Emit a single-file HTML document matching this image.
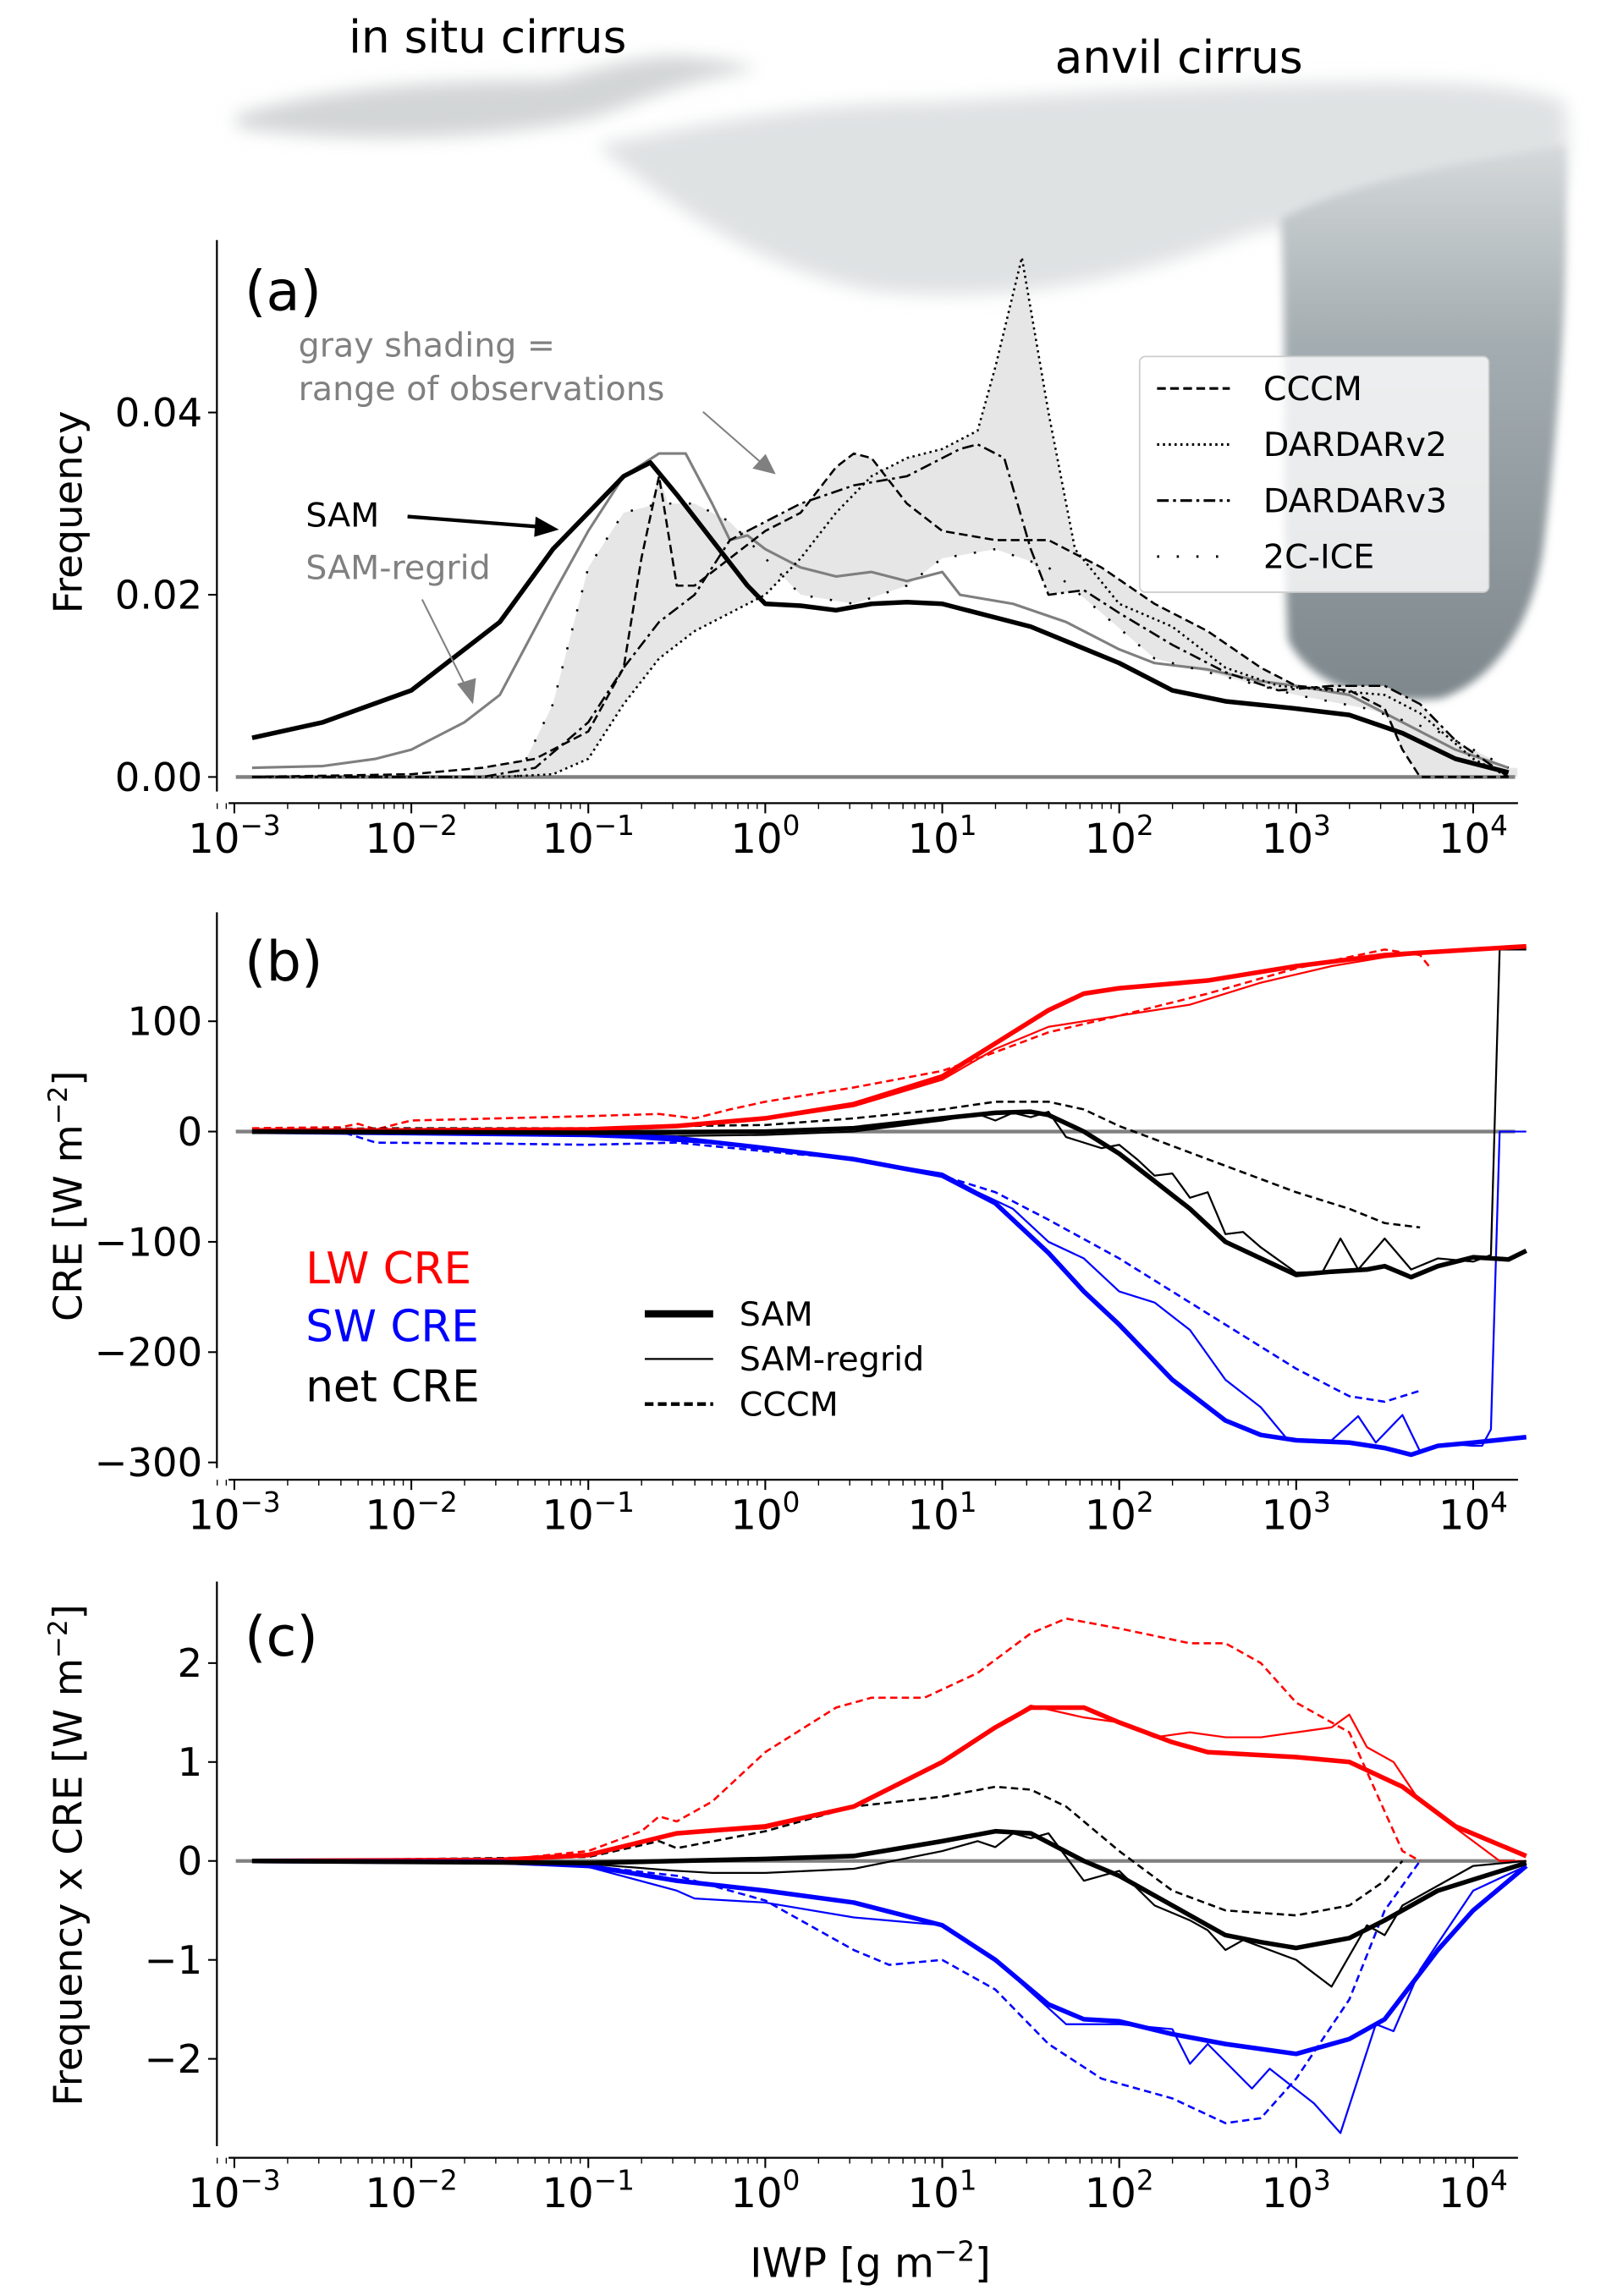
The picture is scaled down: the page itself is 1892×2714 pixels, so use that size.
<!DOCTYPE html>
<html><head><meta charset="utf-8"><style>
html,body{margin:0;padding:0;background:#fff}
svg{display:block;font-family:"DejaVu Sans","Liberation Sans",sans-serif}
</style></head><body>
<svg id="fig" width="1892" height="2714" viewBox="0 0 1100 1578" xmlns="http://www.w3.org/2000/svg">
<defs>
<filter id="blur" x="-20%" y="-20%" width="140%" height="140%"><feGaussianBlur stdDeviation="6"/></filter>
<filter id="blur2" x="-20%" y="-20%" width="140%" height="140%"><feGaussianBlur stdDeviation="3"/></filter>
<linearGradient id="tower" x1="0" y1="0" x2="0" y2="1"><stop offset="0" stop-color="#d5d9da"/><stop offset="0.35" stop-color="#a4adb1"/><stop offset="1" stop-color="#7d878c"/></linearGradient>
</defs>
<g>
<path d="M160,80 C220,60 300,55 380,55 C420,45 450,35 480,40 C505,42 515,45 520,48 C470,55 440,70 410,80 C350,95 250,100 165,88 Z" fill="#d3d6d7" filter="url(#blur)"/>
<path d="M410,100 C480,85 560,70 640,70 C720,65 800,60 880,58 C960,55 1040,55 1075,70 C1080,110 1075,140 1060,150 C980,150 900,150 860,160 C780,190 700,210 600,200 C520,185 460,140 410,100 Z" fill="#dfe2e3" filter="url(#blur)"/>
<path d="M880,150 C940,120 1020,110 1075,100 C1080,180 1070,300 1060,380 C1050,440 1020,470 990,480 C940,485 900,470 885,440 C880,350 885,250 880,150 Z" fill="url(#tower)" filter="url(#blur2)"/>
<text x="335" y="36" font-size="31" text-anchor="middle" fill="#000">in situ cirrus</text>
<text x="810" y="50" font-size="31" text-anchor="middle" fill="#000">anvil cirrus</text>
</g>
<g id="pa"></g>
<g id="pb"></g>
<g id="pc"></g>
</svg>
<script>
// ---------- data (x values are log10 of IWP) ----------
const aSamX=[-2.9,-2.5,-2,-1.5,-1.2,-1,-0.8,-0.65,-0.5,-0.3,-0.1,0,0.2,0.4,0.6,0.8,1,1.2,1.5,2,2.3,2.6,3,3.3,3.6,3.9,4.2];
const aSamY=[0.0043,0.006,0.0095,0.017,0.025,0.029,0.033,0.0345,0.031,0.026,0.021,0.019,0.0188,0.0183,0.019,0.0192,0.019,0.018,0.0165,0.0125,0.0095,0.0083,0.0075,0.0068,0.0048,0.002,0.0005];
const aRegX=[-2.9,-2.5,-2.2,-2,-1.7,-1.5,-1.2,-1,-0.8,-0.6,-0.45,-0.3,-0.2,-0.1,0,0.2,0.4,0.6,0.8,1,1.1,1.4,1.7,2,2.2,2.5,2.8,3,3.3,3.6,3.9,4.2];
const aRegY=[0.001,0.0012,0.002,0.003,0.006,0.009,0.02,0.027,0.033,0.0355,0.0355,0.03,0.026,0.0265,0.025,0.023,0.022,0.0225,0.0215,0.0225,0.02,0.019,0.017,0.014,0.0125,0.0118,0.0105,0.01,0.009,0.006,0.003,0.001];
const aCccmX=[-2.9,-2,-1.6,-1.3,-1,-0.8,-0.7,-0.6,-0.5,-0.4,-0.2,0,0.2,0.4,0.5,0.6,0.8,1,1.3,1.6,1.9,2.2,2.5,2.8,3,3.3,3.5,3.6,3.7,4.2];
const aCccmY=[0,0.0003,0.001,0.002,0.005,0.012,0.024,0.033,0.021,0.021,0.024,0.027,0.029,0.034,0.0355,0.035,0.03,0.027,0.026,0.026,0.023,0.019,0.016,0.012,0.01,0.0095,0.0075,0.003,0,0];
const aD2X=[-2.9,-1.5,-1.2,-1,-0.8,-0.6,-0.4,-0.2,0,0.2,0.4,0.6,0.8,1,1.2,1.3,1.45,1.6,1.75,2,2.3,2.6,2.9,3.2,3.5,3.7,4,4.2];
const aD2Y=[0,0,0.0003,0.002,0.008,0.013,0.016,0.018,0.02,0.024,0.029,0.033,0.035,0.036,0.038,0.045,0.057,0.04,0.025,0.019,0.0165,0.012,0.01,0.0095,0.009,0.007,0.002,0];
const aD3X=[-2.9,-1.6,-1.3,-1,-0.8,-0.6,-0.4,-0.2,0,0.2,0.5,0.8,1.1,1.2,1.35,1.5,1.6,1.8,2,2.3,2.6,2.9,3.2,3.5,3.7,3.9,4.2];
const aD3Y=[0,0,0.001,0.006,0.012,0.017,0.02,0.026,0.028,0.03,0.032,0.033,0.036,0.0365,0.035,0.025,0.02,0.0205,0.018,0.0145,0.0115,0.0095,0.01,0.01,0.008,0.004,0];
const a2cX=[-1.4,-1.2,-1,-0.8,-0.6,-0.4,-0.2,0,0.2,0.5,0.8,1,1.3,1.6,1.9,2.2,2.6,3,3.4,3.8,4.2];
const a2cY=[0,0.008,0.023,0.029,0.03,0.03,0.028,0.024,0.02,0.019,0.021,0.024,0.025,0.023,0.018,0.013,0.011,0.009,0.0075,0.005,0.001];
const aYTicks=[0,0.02,0.04];
const aYLabels=["0.00","0.02","0.04"];
const bLwSamX=[-2.9,-2,-1,-0.5,0,0.5,1,1.3,1.6,1.8,2,2.5,3,3.5,4,4.3];
const bLwSamY=[1,1,2,5,12,25,50,80,110,125,130,137,150,160,165,168];
const bLwRegX=[-2.9,-2,-1,-0.5,0,0.5,1,1.3,1.6,2,2.4,2.8,3.2,3.5,4,4.3];
const bLwRegY=[1,1,2,5,11,23,47,75,95,105,115,135,150,158,166,167];
const bLwCcX=[-2.9,-2.4,-2.3,-2.2,-2,-1.5,-1,-0.6,-0.4,-0.2,0,0.5,1,1.3,1.6,2,2.5,3,3.5,3.7,3.75];
const bLwCcY=[3,4,7,2,10,12,14,16,12,20,27,40,55,72,90,105,125,148,165,160,150];
const bSwSamX=[-2.9,-1,-0.5,0,0.5,1,1.3,1.6,1.8,2,2.3,2.6,2.8,3,3.3,3.5,3.65,3.8,4,4.3];
const bSwSamY=[0,-3,-6,-15,-25,-40,-65,-110,-145,-175,-225,-262,-275,-280,-282,-287,-293,-285,-282,-277];
const bSwRegX=[-2.9,-1,0,0.5,1,1.2,1.4,1.6,1.8,2,2.2,2.4,2.6,2.8,2.95,3.2,3.35,3.45,3.6,3.7,3.85,4,4.05,4.1,4.15,4.3];
const bSwRegY=[0,-3,-14,-25,-38,-55,-70,-100,-115,-145,-155,-180,-225,-250,-279,-280,-258,-282,-257,-290,-283,-285,-285,-270,0,0];
const bSwCcX=[-2.9,-2.4,-2.2,-1.5,-1,-0.5,0,0.5,1,1.3,1.6,2,2.5,3,3.3,3.5,3.6,3.7];
const bSwCcY=[0,0,-10,-11,-12,-10,-18,-25,-40,-55,-80,-115,-165,-215,-240,-245,-240,-235];
const bNetSamX=[-2.9,-1,0,0.5,1,1.3,1.5,1.6,1.8,2,2.2,2.4,2.6,2.8,3,3.2,3.4,3.5,3.65,3.8,4,4.2,4.3];
const bNetSamY=[0,-1,0,3,12,17,18,15,0,-20,-45,-70,-100,-115,-130,-127,-125,-122,-132,-122,-114,-116,-108];
const bNetRegX=[-2.9,-1,-0.5,0,0.5,1,1.2,1.3,1.4,1.5,1.6,1.7,1.9,2,2.1,2.2,2.3,2.4,2.5,2.6,2.7,2.8,3,3.15,3.25,3.35,3.5,3.65,3.8,4,4.1,4.15,4.3];
const bNetRegY=[0,-2,-4,-3,0,10,16,10,17,13,18,-5,-15,-12,-25,-40,-38,-60,-55,-93,-91,-105,-128,-127,-97,-125,-97,-125,-115,-118,-112,165,165];
const bNetCcX=[-2.9,-2,-1,-0.5,0,0.5,1,1.3,1.6,1.8,2,2.5,3,3.3,3.5,3.7];
const bNetCcY=[2,3,3,5,6,12,20,27,27,20,5,-25,-55,-70,-83,-87];
const bYTicks=[100,0,-100,-200,-300];
const bYLabels=["100","0","\u2212100","\u2212200","\u2212300"];
const cLwSamX=[-2.9,-1.5,-1,-0.5,0,0.5,1,1.3,1.5,1.8,2,2.3,2.5,3,3.3,3.6,3.9,4.3];
const cLwSamY=[0,0.01,0.06,0.28,0.35,0.55,1.0,1.35,1.55,1.55,1.4,1.2,1.1,1.05,1.0,0.75,0.35,0.05];
const cLwRegX=[-2.9,-1.5,-1,-0.5,0,0.5,1,1.3,1.5,1.8,2,2.2,2.4,2.6,2.8,3,3.2,3.3,3.4,3.55,3.7,4,4.15,4.3];
const cLwRegY=[0,0.01,0.06,0.27,0.33,0.55,1.0,1.35,1.57,1.45,1.4,1.25,1.3,1.25,1.25,1.3,1.35,1.48,1.15,1.0,0.6,0.2,0,0];
const cLwCcX=[-2.9,-1.5,-1,-0.7,-0.6,-0.5,-0.3,0,0.4,0.6,0.9,1.2,1.5,1.7,2,2.4,2.6,2.8,3,3.3,3.5,3.6,3.7];
const cLwCcY=[0,0.01,0.1,0.3,0.45,0.4,0.6,1.1,1.55,1.65,1.65,1.9,2.3,2.45,2.35,2.2,2.2,2,1.6,1.3,0.5,0.1,0];
const cSwSamX=[-2.9,-1.5,-1,-0.5,0,0.5,1,1.3,1.6,1.8,2,2.3,2.6,3,3.3,3.5,3.8,4,4.3];
const cSwSamY=[0,-0.01,-0.05,-0.2,-0.3,-0.42,-0.65,-1.0,-1.45,-1.6,-1.62,-1.75,-1.85,-1.95,-1.8,-1.6,-0.9,-0.5,-0.05];
const cSwRegX=[-2.9,-1.5,-1,-0.5,-0.4,0,0.5,1,1.3,1.7,2,2.3,2.4,2.5,2.75,2.85,3.1,3.25,3.45,3.55,3.7,4,4.3];
const cSwRegY=[0,-0.01,-0.06,-0.3,-0.38,-0.42,-0.57,-0.65,-1.0,-1.65,-1.65,-1.7,-2.05,-1.85,-2.3,-2.1,-2.45,-2.75,-1.65,-1.72,-1.1,-0.3,-0.05];
const cSwCcX=[-2.9,-1.5,-1,-0.5,0,0.5,0.7,1,1.3,1.6,1.9,2.3,2.6,2.8,3,3.3,3.5,3.7];
const cSwCcY=[0,-0.01,-0.05,-0.15,-0.4,-0.9,-1.05,-1.0,-1.3,-1.85,-2.2,-2.4,-2.65,-2.6,-2.2,-1.4,-0.5,0];
const cNetSamX=[-2.9,-1,0,0.5,1,1.3,1.5,1.8,2,2.3,2.6,2.8,3,3.3,3.5,3.8,4.3];
const cNetSamY=[0,-0.02,0.02,0.05,0.2,0.3,0.28,0,-0.15,-0.45,-0.75,-0.82,-0.88,-0.78,-0.6,-0.3,-0.02];
const cNetRegX=[-2.9,-1,-0.5,-0.3,0,0.5,1,1.2,1.3,1.4,1.5,1.6,1.8,2,2.2,2.4,2.5,2.6,2.7,3,3.2,3.4,3.5,3.6,4,4.3];
const cNetRegY=[0,-0.03,-0.1,-0.12,-0.12,-0.08,0.1,0.2,0.14,0.28,0.23,0.28,-0.2,-0.1,-0.45,-0.6,-0.7,-0.9,-0.8,-1.0,-1.27,-0.65,-0.75,-0.45,-0.05,0];
const cNetCcX=[-2.9,-1,-0.6,-0.5,0,0.5,1,1.3,1.5,1.7,2,2.3,2.6,3,3.3,3.5,3.6];
const cNetCcY=[0,0.04,0.2,0.13,0.3,0.55,0.65,0.75,0.72,0.55,0.1,-0.3,-0.5,-0.55,-0.45,-0.2,0];
const cYTicks=[2,1,0,-1,-2];
const cYLabels=["2","1","0","\u22121","\u22122"];
const xDecades=[-3,-2,-1,0,1,2,3,4];

// ---------- helpers ----------
const NS="http://www.w3.org/2000/svg";
function mk(parent,tag,attrs){const e=document.createElementNS(NS,tag);for(const k in attrs)e.setAttribute(k,attrs[k]);parent.appendChild(e);return e;}
const X=lx=>161+(lx+3)*121.6;
function yScale(v0,py0,v1,py1){return v=>py0+(v-v0)*(py1-py0)/(v1-v0);}
function pathD(xs,ys,Y){return xs.map((v,i)=>(i?'L':'M')+X(v).toFixed(1)+','+Y(ys[i]).toFixed(1)).join(' ');}
function line(g,xs,ys,Y,color,w,dash,name){
  const p=mk(g,'path',{d:pathD(xs,ys,Y),fill:'none',stroke:color,'stroke-width':w,'stroke-linejoin':'round','stroke-dasharray':dash||'none'});
  
  
  return p;
}
function interp(xs,ys,v){if(v<=xs[0])return ys[0];if(v>=xs[xs.length-1])return ys[ys.length-1];for(let i=1;i<xs.length;i++){if(v<=xs[i]){const t=(v-xs[i-1])/(xs[i]-xs[i-1]);return ys[i-1]+t*(ys[i]-ys[i-1]);}}}
function axes(g,Y,top,bottom,yTicks,yLabels,ylabelY,ylabelSize){
  const ys=mk(g,'line',{x1:149,y1:top,x2:149,y2:bottom-8,stroke:'#000','stroke-width':1.3});
  
  
  const xs=mk(g,'line',{x1:157,y1:bottom,x2:1043,y2:bottom,stroke:'#000','stroke-width':1.3});
  
  
  yTicks.forEach((v,i)=>{
    mk(g,'line',{x1:143,y1:Y(v),x2:149,y2:Y(v),stroke:'#000','stroke-width':1.2});
    const t=mk(g,'text',{x:139,y:Y(v)+9.5,'font-size':27,'text-anchor':'end'});t.textContent=yLabels[i];
    
    
  });
  xDecades.forEach(d=>{
    mk(g,'line',{x1:X(d),y1:bottom,x2:X(d),y2:bottom+7,stroke:'#000','stroke-width':1.2});
    for(let m=2;m<=9;m++){const lx=d+Math.log10(m);if(X(lx)<=1043)mk(g,'line',{x1:X(lx),y1:bottom,x2:X(lx),y2:bottom+4,stroke:'#000','stroke-width':0.8});}
    const t=mk(g,'text',{x:X(d),y:bottom+34,'font-size':28,'text-anchor':'middle'});
    
    
    t.appendChild(document.createTextNode('10'));
    const s=mk(t,'tspan',{dy:-12,'font-size':19});s.textContent=(d<0?'\u2212':'')+Math.abs(d);
  });
  for(let m=8;m<=9;m++)mk(g,'line',{x1:X(-4+Math.log10(m)),y1:bottom,x2:X(-4+Math.log10(m)),y2:bottom+4,stroke:'#000','stroke-width':0.8});
  const yl=mk(g,'text',{x:0,y:0,'font-size':ylabelSize,'text-anchor':'middle',transform:`translate(56,${ylabelY}) rotate(-90)`});
  
  
  return yl;
}
function zero(g,Y){const z=mk(g,'line',{x1:162,y1:Y(0),x2:1041,y2:Y(0),stroke:'#808080','stroke-width':2.5});
  
  }
function label(g,txt,x,y,size,color,name){const t=mk(g,'text',{x:x,y:y,'font-size':size,fill:color||'#000'});t.textContent=txt;
  
  return t;}

// ---------- panel a ----------
(function(){
  const g=document.getElementById('pa');
  const Y=yScale(0,534,0.04,283.5);
  const sx=[];for(let v=-1.65;v<=4.25;v+=0.05)sx.push(+v.toFixed(2));
  const series=[[aCccmX,aCccmY],[aD2X,aD2Y],[aD3X,aD3Y],[a2cX,a2cY]];
  const up=sx.map(v=>Math.max(...series.map(s=>interp(s[0],s[1],v))));
  const lo=sx.map(v=>Math.min(...series.map(s=>interp(s[0],s[1],v))));
  let d=sx.map((v,i)=>(i?'L':'M')+X(v)+','+Y(up[i])).join(' ');
  for(let i=sx.length-1;i>=0;i--)d+=' L'+X(sx[i])+','+Y(lo[i]);
  const sh=mk(g,'path',{d:d+'Z',fill:'#e6e6e6',stroke:'none'});
  
  
  zero(g,Y);
  const yl=axes(g,Y,165,552,aYTicks,aYLabels,352,27);yl.textContent='Frequency';
  line(g,aRegX,aRegY,Y,'#7f7f7f',1.8,null,'sam-regrid-line');
  line(g,aCccmX,aCccmY,Y,'#000',1.5,'6 3','cccm-line');
  line(g,aD2X,aD2Y,Y,'#000',1.5,'1.5 2.5','dardarv2-line');
  line(g,aD3X,aD3Y,Y,'#000',1.5,'8 3 2 3','dardarv3-line');
  line(g,a2cX,a2cY,Y,'#000',1.5,'1.5 12','2c-ice-line');
  line(g,aSamX,aSamY,Y,'#000',3.2,null,'sam-line');
  label(g,'(a)',168,213,38,'#000','panel-a-label');
  label(g,'gray shading =',205,245,23,'#808080','shading-annotation-line1');
  label(g,'range of observations',205,275,23,'#808080','shading-annotation-line2');
  mk(g,'line',{x1:483,y1:283,x2:523,y2:318,stroke:'#808080','stroke-width':1.2});
  mk(g,'path',{d:'M533,326 L517,322 L526,312 Z',fill:'#808080'});
  label(g,'SAM',210,362,23,'#000','sam-annotation');
  mk(g,'line',{x1:280,y1:355,x2:370,y2:362,stroke:'#000','stroke-width':2.5});
  mk(g,'path',{d:'M384,364 L368,355 L367,369 Z',fill:'#000'});
  label(g,'SAM-regrid',210,398,23,'#808080','sam-regrid-annotation');
  mk(g,'line',{x1:290,y1:412,x2:320,y2:472,stroke:'#808080','stroke-width':1.2});
  mk(g,'path',{d:'M325,484 L314,470 L327,466 Z',fill:'#808080'});
  const lg=mk(g,'g',{});
  
  
  mk(lg,'rect',{x:783,y:245,width:240,height:162,rx:4,fill:'#ffffff','fill-opacity':0.8,stroke:'#cccccc','stroke-width':1});
  const names=['CCCM','DARDARv2','DARDARv3','2C-ICE'];
  const dashes=['6 3','1.5 2.5','8 3 2 3','1.5 12'];
  names.forEach((n,i)=>{const y=267+i*38.5;
    const l=mk(lg,'line',{x1:795,y1:y,x2:845,y2:y,stroke:'#000','stroke-width':1.8,'stroke-dasharray':dashes[i]});
    
    
    label(lg,n,868,y+8,23,'#000','legend-entry-label');});
})();

// ---------- panel b ----------
(function(){
  const g=document.getElementById('pb');
  const Y=yScale(0,777.7,100,701.9);
  zero(g,Y);
  const yl=axes(g,Y,627,1017,bYTicks,bYLabels,822,27);
  yl.appendChild(document.createTextNode('CRE [W m'));
  const s=mk(yl,'tspan',{dy:-10,'font-size':18});s.textContent='\u22122';
  const s2=mk(yl,'tspan',{dy:10});s2.textContent=']';
  line(g,bLwCcX,bLwCcY,Y,'#ff0000',1.5,'5 3','lw-cre-cccm-line');
  line(g,bSwCcX,bSwCcY,Y,'#0000ff',1.5,'5 3','sw-cre-cccm-line');
  line(g,bNetCcX,bNetCcY,Y,'#000',1.5,'5 3','net-cre-cccm-line');
  line(g,bLwRegX,bLwRegY,Y,'#ff0000',1.3,null,'lw-cre-sam-regrid-line');
  line(g,bSwRegX,bSwRegY,Y,'#0000ff',1.3,null,'sw-cre-sam-regrid-line');
  line(g,bNetRegX,bNetRegY,Y,'#000',1.3,null,'net-cre-sam-regrid-line');
  line(g,bLwSamX,bLwSamY,Y,'#ff0000',3.2,null,'lw-cre-sam-line');
  line(g,bSwSamX,bSwSamY,Y,'#0000ff',3.2,null,'sw-cre-sam-line');
  line(g,bNetSamX,bNetSamY,Y,'#000',3.2,null,'net-cre-sam-line');
  label(g,'(b)',168,674,38,'#000','panel-b-label');
  label(g,'LW CRE',210,882,30,'#ff0000','lw-cre-label');
  label(g,'SW CRE',210,922,30,'#0000ff','sw-cre-label');
  label(g,'net CRE',210,963,30,'#000','net-cre-label');
  const lg=mk(g,'g',{});
  
  
  [['SAM',5,null],['SAM-regrid',1.3,null],['CCCM',2.5,'6 3']].forEach((e,i)=>{const y=903+i*31;
    const l=mk(lg,'line',{x1:443,y1:y,x2:490,y2:y,stroke:'#000','stroke-width':e[1],'stroke-dasharray':e[2]||'none'});
    
    
    label(lg,e[0],508,y+8,23,'#000','legend-entry-label');});
})();

// ---------- panel c ----------
(function(){
  const g=document.getElementById('pc');
  const Y=yScale(0,1279,1,1211);
  zero(g,Y);
  const yl=axes(g,Y,1087,1483,cYTicks,cYLabels,1275,27);
  yl.appendChild(document.createTextNode('Frequency x CRE [W m'));
  const s=mk(yl,'tspan',{dy:-10,'font-size':18});s.textContent='\u22122';
  const s2=mk(yl,'tspan',{dy:10});s2.textContent=']';
  line(g,cLwCcX,cLwCcY,Y,'#ff0000',1.5,'5 3','lw-freq-cre-cccm-line');
  line(g,cSwCcX,cSwCcY,Y,'#0000ff',1.5,'5 3','sw-freq-cre-cccm-line');
  line(g,cNetCcX,cNetCcY,Y,'#000',1.5,'5 3','net-freq-cre-cccm-line');
  line(g,cLwRegX,cLwRegY,Y,'#ff0000',1.3,null,'lw-freq-cre-sam-regrid-line');
  line(g,cSwRegX,cSwRegY,Y,'#0000ff',1.3,null,'sw-freq-cre-sam-regrid-line');
  line(g,cNetRegX,cNetRegY,Y,'#000',1.3,null,'net-freq-cre-sam-regrid-line');
  line(g,cLwSamX,cLwSamY,Y,'#ff0000',3.2,null,'lw-freq-cre-sam-line');
  line(g,cSwSamX,cSwSamY,Y,'#0000ff',3.2,null,'sw-freq-cre-sam-line');
  line(g,cNetSamX,cNetSamY,Y,'#000',3.2,null,'net-freq-cre-sam-line');
  label(g,'(c)',168,1138,38,'#000','panel-c-label');
  const xl=mk(g,'text',{x:598,y:1565,'font-size':28,'text-anchor':'middle'});
  
  
  xl.appendChild(document.createTextNode('IWP [g m'));
  const t1=mk(xl,'tspan',{dy:-11,'font-size':19});t1.textContent='\u22122';
  const t2=mk(xl,'tspan',{dy:11});t2.textContent=']';
})();
</script>
</body></html>
